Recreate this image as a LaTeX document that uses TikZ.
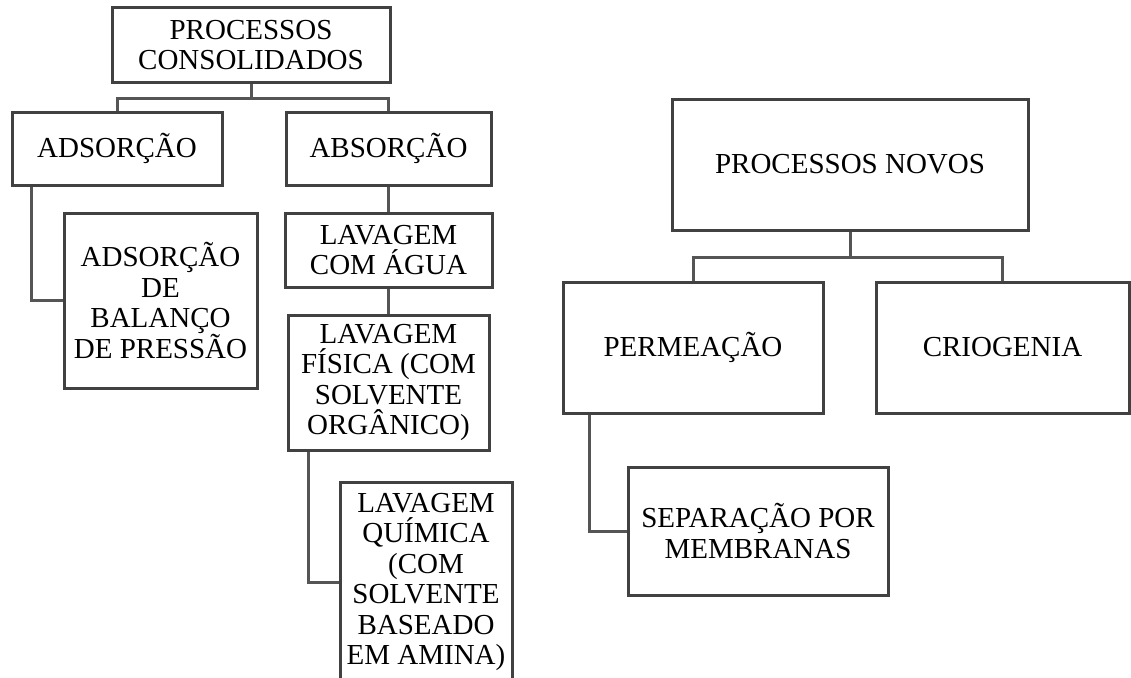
\documentclass[tikz,border=0pt]{standalone}
\usepackage{fontspec}
\setmainfont{Liberation Serif}
\usepackage{tikz}
\usepackage{xcolor}
\definecolor{boxgray}{RGB}{65,65,65}
\definecolor{linkgray}{RGB}{85,85,85}

\begin{document}
\begin{tikzpicture}[line join=miter,
        processbox/.style={shape=rectangle, draw=boxgray, line width=3pt, align=center, inner sep=0pt, font=\fontsize{29pt}{30.5pt}\selectfont},
        link/.style={draw=linkgray, line width=3pt}]
        \useasboundingbox (0pt, 0pt) rectangle (1131pt, -677pt);
        % Processos consolidados
        \node[processbox, minimum width=278pt, minimum height=74pt] (consolidados) at (251pt, -45pt) {PROCESSOS\\CONSOLIDADOS};
        \node[processbox, minimum width=210pt, minimum height=73pt] (adsorcao) at (117pt, -148.5pt) {ADSORÇÃO};
        \node[processbox, minimum width=205pt, minimum height=73pt] (absorcao) at (388.5pt, -148.5pt) {ABSORÇÃO};
        \node[processbox, minimum width=193pt, minimum height=175pt] (balanco) at (160.5pt, -300.5pt) {ADSORÇÃO\\DE\\BALANÇO\\DE PRESSÃO};
        \node[processbox, minimum width=207pt, minimum height=74pt] (agua) at (388.5pt, -250pt) {LAVAGEM\\COM ÁGUA};
        \node[processbox, minimum width=201pt, minimum height=135pt] (fisica) at (388.5pt, -382.5pt) {LAVAGEM\\FÍSICA (COM\\SOLVENTE\\ORGÂNICO)};
        \node[processbox, minimum width=172pt, minimum height=200pt] (quimica) at (426pt, -582pt) {LAVAGEM\\QUÍMICA\\(COM\\SOLVENTE\\BASEADO\\EM AMINA)};
        % Processos novos
        \node[processbox, minimum width=356pt, minimum height=131pt] (novos) at (850pt, -164.5pt) {PROCESSOS NOVOS};
        \node[processbox, minimum width=260pt, minimum height=131pt] (permeacao) at (693pt, -347.5pt) {PERMEAÇÃO};
        \node[processbox, minimum width=253pt, minimum height=131pt] (criogenia) at (1002.5pt, -347.5pt) {CRIOGENIA};
        \node[processbox, minimum width=260pt, minimum height=128pt] (separacao) at (758pt, -531pt) {SEPARAÇÃO POR\\MEMBRANAS};
        % Links
        \draw[link] (consolidados.south) -- ++(0pt, -15pt) coordinate (consolidadosjoin);
        \draw[link] (adsorcao.north) |- (consolidadosjoin) -| (absorcao.north);
        \draw[link] ([xshift=21pt]adsorcao.south west) |- (balanco.west);
        \draw[link] (absorcao.south) -- (agua.north);
        \draw[link] (agua.south) -- (fisica.north);
        \draw[link] ([xshift=22pt]fisica.south west) |- (quimica.west);
        \draw[link] (novos.south) -- ++(0pt, -26pt) coordinate (novosjoin);
        \draw[link] (permeacao.north) |- (novosjoin) -| (criogenia.north);
        \draw[link] ([xshift=28pt]permeacao.south west) |- (separacao.west);
\end{tikzpicture}
\end{document}
